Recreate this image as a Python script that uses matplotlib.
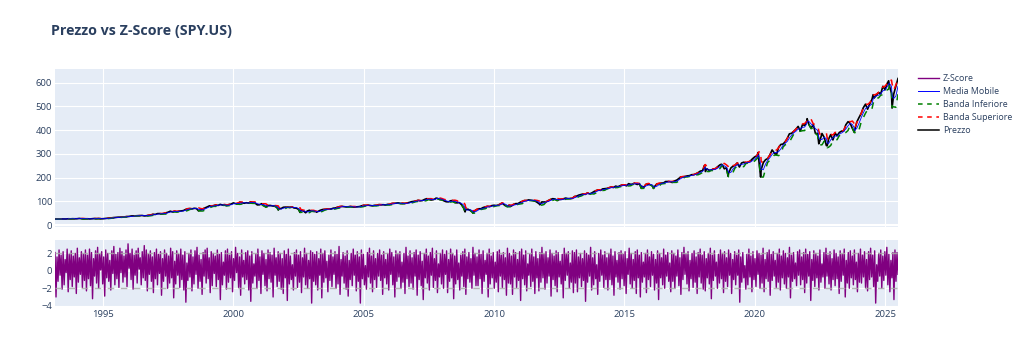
import numpy as np
import pandas as pd
import matplotlib
matplotlib.use("Agg")
import matplotlib.pyplot as plt
from matplotlib.lines import Line2D

# SPY adjusted close, month ends Feb 1993 -> Jun 2025
price_monthly = [
    25.5, 26.0, 25.3, 25.9, 25.9, 25.8, 26.7, 26.4, 26.9, 26.6, 26.8,               # 1993
    28.2, 27.3, 26.1, 26.4, 26.7, 26.0, 26.8, 27.8, 27.1, 27.6, 26.5, 26.9,         # 1994
    28.0, 29.0, 29.8, 30.6, 31.7, 32.4, 33.4, 33.4, 34.8, 34.6, 36.0, 36.6,         # 1995
    38.5, 38.7, 39.1, 39.6, 40.5, 40.6, 38.7, 39.4, 41.6, 42.7, 45.8, 44.8,         # 1996
    48.4, 48.6, 46.6, 49.3, 52.2, 54.4, 58.7, 55.3, 58.3, 56.2, 58.8, 59.7,         # 1997
    61.3, 65.6, 68.9, 69.5, 68.2, 70.9, 70.0, 59.8, 63.6, 68.7, 72.7, 76.8,         # 1998
    81.5, 78.9, 81.9, 85.1, 82.9, 87.4, 84.6, 84.1, 81.7, 86.8, 88.5, 93.6,         # 1999
    90.4, 88.5, 97.1, 94.1, 92.1, 94.3, 92.7, 98.3, 93.1, 92.6, 85.2, 85.6,         # 2000
    90.2, 81.8, 76.6, 82.5, 82.9, 80.8, 79.9, 74.8, 68.7, 69.9, 75.2, 75.8,         # 2001
    75.7, 74.1, 76.9, 72.2, 71.5, 66.3, 61.1, 61.4, 54.6, 59.3, 62.7, 58.9,         # 2002
    58.2, 57.2, 57.7, 62.3, 65.5, 66.3, 67.3, 68.5, 67.7, 71.4, 72.0, 75.6,         # 2003
    78.0, 79.0, 77.7, 76.4, 77.3, 78.7, 76.0, 76.2, 76.9, 78.0, 81.0, 83.6,         # 2004
    82.7, 84.3, 82.6, 81.0, 83.4, 83.4, 86.4, 85.4, 86.0, 84.5, 87.5, 87.4,         # 2005
    91.5, 91.6, 92.6, 93.7, 90.8, 90.8, 91.3, 93.2, 95.5, 98.5, 100.1, 101.4,       # 2006
    104.6, 102.3, 103.3, 107.8, 111.3, 109.3, 105.8, 107.2, 111.0, 112.6, 107.7, 106.8,  # 2007
    102.0, 98.5, 97.9, 102.5, 103.6, 94.7, 93.8, 94.9, 86.3, 71.7, 66.3, 66.8,      # 2008
    61.9, 55.1, 59.8, 65.5, 68.9, 68.9, 74.1, 76.5, 79.3, 77.7, 82.2, 83.6,         # 2009
    82.2, 84.5, 89.5, 90.8, 83.3, 78.8, 84.3, 80.3, 87.3, 90.5, 90.3, 96.2,         # 2010
    100.3, 103.5, 103.4, 106.4, 104.9, 103.0, 100.8, 95.1, 88.2, 97.8, 97.3, 98.1,  # 2011
    103.7, 107.9, 111.3, 110.4, 103.5, 107.6, 109.0, 111.1, 113.8, 111.6, 111.9, 112.7,  # 2012
    120.6, 121.9, 126.3, 128.6, 131.3, 129.3, 135.7, 131.5, 135.4, 141.4, 145.4, 148.8,  # 2013
    146.2, 152.5, 153.5, 154.5, 157.7, 160.7, 158.3, 164.3, 161.7, 165.5, 169.5, 168.8,  # 2014
    165.6, 174.7, 171.6, 173.1, 174.9, 171.2, 174.6, 163.7, 159.4, 172.6, 172.7, 169.6,  # 2015
    163.9, 163.3, 174.0, 174.5, 177.2, 177.4, 183.7, 183.5, 183.2, 179.7, 185.8, 189.2,  # 2016
    196.0, 203.3, 203.2, 205.0, 207.4, 208.4, 212.4, 212.6, 216.7, 221.5, 227.7, 229.9,  # 2017
    247.1, 237.5, 231.1, 231.7, 236.7, 237.9, 246.4, 253.9, 255.0, 237.3, 241.5, 219.4,  # 2018
    240.7, 247.8, 252.3, 262.2, 244.9, 261.8, 265.3, 260.5, 264.9, 270.3, 279.5, 287.5,  # 2019
    291.9, 267.4, 233.9, 263.6, 275.5, 280.6, 296.0, 316.8, 304.4, 295.9, 327.8, 339.9,  # 2020
    341.7, 350.6, 365.5, 384.7, 386.8, 395.4, 404.4, 416.1, 396.3, 423.7, 420.2, 438.5,  # 2021
    422.2, 409.0, 423.6, 386.3, 386.4, 353.9, 386.2, 369.8, 335.3, 362.0, 381.5, 359.0,  # 2022
    387.3, 377.2, 390.4, 396.1, 397.1, 422.8, 436.0, 428.2, 407.4, 398.4, 433.9, 453.1,  # 2023
    470.0, 494.3, 509.7, 488.5, 511.9, 529.7, 535.7, 547.9, 559.0, 553.4, 585.1, 570.5,  # 2024
    598.0, 589.5, 555.6, 551.3, 586.0, 617.9,                                       # 2025
]

# intra-month highs / lows visible on the chart
extra_dates = [
    "2001-09-21", "2002-07-23", "2002-10-09", "2003-03-11", "2007-10-09",
    "2008-11-20", "2009-03-09", "2010-04-23", "2010-07-02", "2011-10-03",
    "2015-05-21", "2015-08-25", "2016-02-11", "2018-01-26", "2018-02-08",
    "2018-09-20", "2018-12-24", "2020-02-19", "2020-03-23", "2022-01-03",
    "2022-06-16", "2022-10-12", "2023-10-27", "2024-07-16", "2025-02-19",
    "2025-04-08",
]
extra_prices = [
    63.7, 53.4, 52.0, 54.4, 113.8,
    55.7, 50.7, 93.1, 78.2, 85.7,
    176.9, 155.0, 154.6, 251.4, 225.8,
    256.4, 205.7, 306.4, 202.5, 448.5,
    342.8, 334.4, 391.1, 549.7, 608.3,
    493.3,
]

# z-score: swing highs and swing lows, roughly one pair every ~2.5 weeks
z_high = [
    2.1, 1.6, 2.4, 1.8, 2.2, 1.3, 2.5, 1.9, 2.3, 1.7, 2.0, 2.6, 1.5, 2.2, 1.9, 2.4,
    1.8, 2.5, 2.1, 1.4, 2.3, 2.7, 1.9, 2.2, 1.6, 2.4, 2.0, 1.2, 2.3, 2.8, 1.9, 2.1,
    2.6, 2.2, 1.7, 2.4, 3.1, 2.0, 2.5, 1.8, 2.3, 2.6, 1.5, 2.2, 2.9, 2.4, 1.9, 2.3,
    1.6, 2.1, 2.5, 1.9, 2.2, 1.4, 2.4, 2.0, 1.7, 2.6, 2.2, 1.1, 2.3, 1.9, 2.5, 1.8,
    2.2, 0.9, 2.0, 2.4, 1.6, 2.3, 2.7, 1.8, 1.3, 2.1, 2.4, 2.6, 1.5, 2.2, 2.0, 1.7,
    2.4, 1.9, 2.1, 1.0, 2.3, 2.5, 1.8, 2.2, 1.4, 2.7, 2.0, 1.6, 2.4, 1.2, 2.1, 2.3,
    1.7, 2.2, 0.8, 1.9, 2.5, 1.6, 2.3, 2.0, 1.3, 2.4, 2.1, 1.8, 2.6, 1.5, 2.2, 2.0,
    1.4, 2.3, 1.9, 2.5, 1.7, 0.7, 2.1, 2.4, 1.8, 2.2, 1.5, 2.6, 2.0, 1.2, 2.3, 2.1,
    1.9, 2.2, 1.4, 2.5, 2.0, 2.3, 1.1, 1.8, 2.4, 1.6, 2.2, 1.9, 2.8, 1.3, 2.1, 1.7,
    2.3, 1.2, 2.0, 2.5, 1.8, 2.2, 1.6, 2.4, 1.9, 0.6, 2.1, 2.6, 1.7, 2.3, 1.4, 2.0,
    2.4, 1.8, 2.2, 1.3, 2.0, 2.5, 2.1, 1.6, 2.3, 1.9, 2.2, 1.0, 2.0, 2.7, 1.7, 2.3,
    1.5, 2.1, 2.4, 1.8, 2.2, 1.1, 2.0, 2.5, 1.7, 2.1, 2.6, 1.4, 2.3, 0.8, 2.0, 2.4,
    1.9, 2.3, 1.3, 2.5, 2.0, 1.7, 2.4, 0.9, 1.8, 2.2, 2.5, 1.6, 2.1, 1.4, 2.7, 2.0,
    1.6, 2.4, 1.9, 2.3, 1.2, 2.0, 2.5, 1.7, 2.1, 1.0, 2.2, 2.4, 1.8, 2.1, 1.5, 2.6,
    2.0, 1.7, 2.4, 2.1, 1.3, 2.2, 2.5, 1.8, 2.3, 0.8, 1.9, 2.5, 1.6, 2.2, 1.4, 2.1,
    2.7, 1.9, 2.2, 1.5, 2.4, 2.0, 1.7, 2.3, 2.1, 1.1, 1.9, 2.6, 2.0, 2.2, 0.9, 2.3,
    2.1, 2.4, 1.6, 2.0, 1.4, 2.3, 2.0, 1.8, 2.7, 1.5, 2.2, 0.7, 2.0, 2.4, 1.8, 2.2,
    1.5, 2.0, 2.5, 1.7, 2.2, 1.2, 2.1, 2.3, 1.9, 2.2, 1.4, 2.6, 2.0, 1.3, 2.2, 2.4,
    1.8, 2.1, 1.0, 2.0, 2.4, 1.6, 2.2, 1.9, 1.3, 2.3, 2.0, 1.5, 2.5, 1.8, 2.1, 0.9,
    2.3, 2.0, 1.7, 2.4, 1.5, 2.1, 2.7, 1.9, 2.2, 1.2, 2.0, 2.3, 1.6, 2.1, 2.5, 1.8,
    2.2, 1.4, 2.0, 2.6, 1.8, 2.3, 1.0, 1.9, 2.4, 2.0, 2.2, 1.5, 2.4, 2.0, 1.3, 2.2,
    1.8, 2.4, 1.6, 2.1, 0.6, 1.9, 2.5, 1.7, 2.2, 1.4, 2.3, 2.0, 1.8, 2.6, 1.3, 2.1,
    2.4, 1.9, 2.2, 1.2, 2.0, 2.5, 1.7, 2.3, 2.0, 1.5, 2.7, 1.8, 2.1, 0.9, 2.2, 2.4,
    1.6, 2.1, 2.5, 1.9, 2.2, 1.3, 2.3, 2.0, 1.7, 2.4, 0.8, 2.1, 2.6, 1.8, 2.2, 1.4,
    2.4, 2.0, 1.6, 2.3, 1.9, 2.5, 1.2, 2.1, 2.3, 1.7, 2.4, 1.0, 2.0, 2.5, 1.8, 2.2,
    1.3, 2.2, 2.6, 1.8, 2.3, 0.7, 2.0, 2.4, 1.7, 2.2, 2.7, 1.9, 1.2, 2.1, 2.4, 2.1,
]
z_low = [
    -3.0, -1.2, -0.5, -2.1, -1.6, -0.2, -2.4, -1.0, -1.8, -0.7, -2.6, -1.3, -0.4, -1.9, -1.1, -2.3,
    -0.9, -1.7, -3.2, -0.6, -1.4, -2.0, 0.1, -1.5, -2.9, -0.8, -1.2, -2.2, -0.3, -1.6, -0.9, -1.9,
    -0.2, -1.3, -0.7, -1.8, 0.3, -1.0, -2.1, -0.5, -1.4, 0.2, -1.6, -0.8, -1.1, -2.3, -0.4, -1.2,
    -2.5, -0.9, -1.6, -0.3, -2.8, -1.2, -0.6, -2.0, -1.4, -0.8, -3.1, -1.5, -0.5, -1.9, -1.0, -2.2,
    -3.6, -1.1, -0.7, -2.3, -1.5, -0.4, -2.0, -1.2, -2.7, -0.6, -1.4, -0.9, -2.5, -1.7, -0.3, -1.8,
    -1.0, -3.3, -1.6, -0.5, -2.1, -1.3, -0.8, -2.4, -1.1, -0.2, -1.9, -2.8, -0.7, -1.5, -1.0, -2.2,
    -3.5, -1.4, -0.6, -2.0, -1.1, -2.6, -0.4, -1.7, -2.3, -0.9, -1.3, -3.0, -0.5, -1.8, -1.2, -2.1,
    -2.6, -0.8, -3.4, -1.5, -1.0, -2.2, -0.6, -1.9, -1.3, -2.5, -0.7, -1.6, -2.0, -0.9, -3.7, -1.2,
    -1.6, -2.2, -0.5, -3.1, -1.3, -0.8, -2.4, -1.1, -1.8, -0.4, -2.0, -1.5, -2.7, -0.6, -1.4, -2.1,
    -2.9, -1.0, -1.7, -0.5, -2.3, -1.2, -3.7, -0.9, -1.6, -2.1, -0.7, -1.4, -2.4, -1.0, -1.9, -0.6,
    -1.1, -2.7, -0.8, -1.5, -2.2, -0.4, -1.6, -3.0, -1.2, -0.7, -2.0, -1.3, -2.6, -0.9, -1.8, -1.4,
    -2.1, -0.6, -2.8, -1.0, -1.7, -3.3, -0.8, -1.4, -2.2, -0.5, -1.9, -1.1, -2.5, -0.7, -1.5, -2.0,
    -0.4, -2.5, -1.2, -0.8, -3.2, -1.5, -1.0, -2.2, -0.6, -1.8, -2.7, -0.9, -1.3, -2.0, -0.5, -1.7,
    -1.7, -0.9, -2.6, -1.2, -0.4, -3.0, -1.5, -0.8, -2.0, -1.3, -2.4, -0.6, -1.9, -1.0, -2.8, -1.4,
    -1.5, -2.7, -0.7, -1.9, -1.1, -3.4, -0.9, -1.6, -2.3, -0.5, -1.8, -1.2, -2.6, -0.8, -2.3, -1.3,
    -0.8, -2.1, -1.4, -0.6, -2.9, -1.0, -1.7, -2.4, -0.7, -1.5, -3.1, -1.1, -0.5, -2.0, -1.3, -2.5,
    -1.4, -2.4, -0.8, -1.8, -1.1, -3.5, -1.3, -0.6, -2.2, -1.6, -0.9, -2.7, -1.2, -0.5, -1.9, -1.0,
    -2.2, -1.0, -1.6, -2.8, -0.7, -1.3, -2.1, -0.9, -1.7, -2.6, -0.4, -1.5, -2.0, -1.1, -2.6, -0.8,
    -3.0, -1.3, -0.7, -2.5, -1.0, -1.8, -0.5, -2.2, -1.4, -3.3, -0.8, -1.6, -2.0, -0.6, -1.2, -2.4,
    -1.2, -2.0, -0.6, -1.7, -2.7, -1.0, -0.4, -1.5, -2.3, -0.9, -1.9, -1.3, -2.6, -0.7, -1.4, -2.1,
    -2.3, -0.8, -1.5, -3.2, -1.1, -0.6, -2.0, -1.4, -0.9, -2.5, -1.2, -1.8, -0.5, -2.6, -1.0, -1.6,
    -0.5, -3.6, -1.3, -0.8, -2.1, -1.6, -0.7, -2.4, -1.0, -1.8, -0.4, -2.0, -1.4, -2.4, -0.9, -1.2,
    -2.8, -1.1, -0.6, -1.9, -1.3, -2.2, -0.8, -1.5, -2.0, -0.7, -3.1, -1.2, -0.9, -1.7, -0.5, -1.6,
    -1.0, -2.5, -1.4, -0.6, -3.4, -1.1, -1.8, -0.8, -2.2, -1.3, -0.7, -2.0, -0.6, -1.5, -2.2, -1.0,
    -1.7, -0.9, -2.6, -1.2, -0.5, -3.0, -1.4, -2.0, -0.8, -1.6, -1.0, -2.4, -1.3, -1.4, -0.7, -1.9,
    -2.3, -1.0, -0.7, -1.8, -3.7, -1.2, -0.6, -2.0, -1.1, -0.5, -1.6, -2.4, -0.8, -3.3, -1.2, -0.4,
]

year_ticks = [1995, 2000, 2005, 2010, 2015, 2020, 2025]

# build the price series
s_month = pd.Series(price_monthly,
                    index=pd.date_range("1993-02-28", periods=len(price_monthly), freq="ME"))
s_extra = pd.Series(extra_prices, index=pd.to_datetime(extra_dates))
price = pd.concat([s_month, s_extra]).sort_index()

ma = price.rolling(3, min_periods=1).mean()
sd = price.rolling(3, min_periods=1).std().fillna(0)
upper = ma + 1.0 * sd
lower = ma - 1.0 * sd

# interleave swing highs and lows into one path
zscore = np.column_stack([z_high, z_low]).ravel()
z_dates = pd.date_range("1993-02-26", "2025-06-30", periods=len(zscore))

# plotly-ish look
BG = "#E5ECF6"
TXT = "#2a3f5f"
plt.rcParams["font.family"] = ["Open Sans", "DejaVu Sans"]

fig = plt.figure(figsize=(10.24, 3.63), dpi=100)
ax1 = fig.add_axes([55 / 1024, 1 - 227 / 363, 843 / 1024, 158 / 363])
ax2 = fig.add_axes([55 / 1024, 1 - 307 / 363, 843 / 1024, 67.5 / 363], sharex=ax1)

for ax in (ax1, ax2):
    ax.set_facecolor(BG)
    for sp in ax.spines.values():
        sp.set_visible(False)
    ax.grid(True, color="white", linewidth=0.8)
    ax.set_axisbelow(True)
    ax.tick_params(length=0, labelsize=6.8, labelcolor=TXT, pad=2)

# price panel (trace order as in plotly: price first)
ax1.plot(price.index, price.values, color="black", lw=1.2, label="Prezzo")
ax1.plot(upper.index, upper.values, color="red", lw=1.1, ls=(0, (4.3, 4.3)), label="Banda Superiore")
ax1.plot(lower.index, lower.values, color="green", lw=1.1, ls=(0, (4.3, 4.3)), label="Banda Inferiore")
ax1.plot(ma.index, ma.values, color="blue", lw=0.6, label="Media Mobile")
ax1.axhline(0, color="white", lw=1.5, zorder=0.5)
ax1.set_ylim(-8, 658)
ax1.set_yticks([0, 100, 200, 300, 400, 500, 600])
ax1.tick_params(axis="x", labelbottom=False)

# z-score panel
ax2.plot(z_dates, zscore, color="purple", lw=1.0, label="Z-Score")
for lvl in (2, -2):
    ax2.axhline(lvl, color="#a8a8a8", lw=1.0, ls=(0, (4.7, 4.7)), alpha=0.85, zorder=5)
ax2.axhline(0, color="white", lw=1.5, zorder=0.5)
ax2.set_ylim(-4.15, 3.6)
ax2.set_yticks([-4, -2, 0, 2])
ax2.set_yticklabels(["\u22124", "\u22122", "0", "2"])
ax2.set_xticks([pd.Timestamp(f"{y}-01-01") for y in year_ticks])
ax2.set_xticklabels([str(y) for y in year_ticks])
ax2.set_xlim(pd.Timestamp("1993-02-26"), pd.Timestamp("2025-06-30"))

fig.text(51 / 1024, 1 - 31 / 363, "Prezzo vs Z-Score (SPY.US)", fontsize=10.3,
         fontweight="bold", color=TXT, va="center", ha="left")

handles = [
    Line2D([], [], color="purple", lw=1.0),
    Line2D([], [], color="blue", lw=0.7),
    Line2D([], [], color="green", lw=1.1, ls=(0, (3.0, 3.0))),
    Line2D([], [], color="red", lw=1.1, ls=(0, (3.0, 3.0))),
    Line2D([], [], color="black", lw=1.1),
]
labels = ["Z-Score", "Media Mobile", "Banda Inferiore", "Banda Superiore", "Prezzo"]
leg = fig.legend(handles, labels, loc="upper left", bbox_to_anchor=(918 / 1024, 1 - 74 / 363),
                 frameon=False, fontsize=6.4, handlelength=2.35, handletextpad=0.45,
                 labelspacing=0.45, borderpad=0, borderaxespad=0)
for t in leg.get_texts():
    t.set_color(TXT)

fig.savefig("out.png", dpi=100)
